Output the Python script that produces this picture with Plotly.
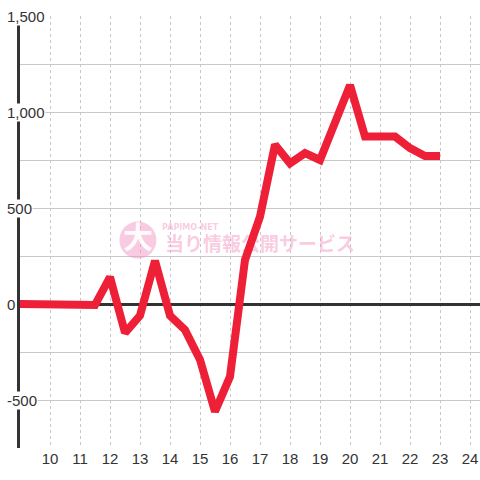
import plotly.graph_objects as go

hours = [9, 9.5, 10, 10.5, 11, 11.5, 12, 12.5, 13, 13.5, 14, 14.5, 15, 15.5,
         16, 16.5, 17, 17.5, 18, 18.5, 19, 19.5, 20, 20.5, 21, 21.5, 22, 22.5, 23]
values = [0, 0, 0, 0, 0, -5, 140, -150, -60, 225, -60, -135, -290, -560,
          -378, 230, 455, 830, 733, 786, 750, 935, 1140, 872, 872, 872, 812, 771, 771]

x_ticks = list(range(10, 25))
y_label_vals = [1500, 1000, 500, 0, -500]
y_label_text = ["1,500", "1,000", "500", "0", "-500"]

pink = "rgba(242,140,190,0.45)"
font_family = "Liberation Sans, Arial, sans-serif"

fig = go.Figure()

# watermark (drawn under the line)
fig.add_trace(go.Scatter(
    x=[12.93], y=[333], mode="markers+text",
    marker=dict(size=37, color=pink, line=dict(width=0)),
    text=["大"], textposition="middle center",
    textfont=dict(family="Noto Sans CJK JP", size=30, color="rgba(255,255,255,0.95)", weight="bold"),
    hoverinfo="skip", showlegend=False))
fig.add_trace(go.Scatter(
    x=[14.67], y=[396], mode="text", text=["PAPIMO-NET"],
    textfont=dict(family="DejaVu Sans", size=8, color=pink, weight="bold"),
    hoverinfo="skip", showlegend=False))
fig.add_trace(go.Scatter(
    x=[17.0], y=[303], mode="text", text=["当り情報公開サービス"],
    textfont=dict(family="Noto Sans CJK JP", size=19, color=pink, weight="bold"),
    hoverinfo="skip", showlegend=False))

fig.add_trace(go.Scatter(
    x=hours, y=values, mode="lines",
    line=dict(color="#EE2038", width=8),
    hoverinfo="skip", showlegend=False))

for v, t in zip(y_label_vals, y_label_text):
    fig.add_annotation(
        x=-0.031, xref="paper", y=v, yref="y", text=t, showarrow=False,
        xanchor="left", yanchor="middle", bgcolor="white", borderpad=0,
        font=dict(family=font_family, size=15, color="#333333"))

fig.update_layout(
    width=480, height=480,
    margin=dict(l=20, r=0, t=16, b=32),
    paper_bgcolor="white", plot_bgcolor="white",
    xaxis=dict(
        range=[9, 24.333], tickvals=x_ticks, ticktext=[str(t) for t in x_ticks],
        showgrid=True, gridcolor="#c8c8c8", gridwidth=1, griddash="3px,3px",
        zeroline=False, showline=False, ticks="",
        tickfont=dict(family=font_family, size=15, color="#333333"),
    ),
    yaxis=dict(
        range=[-750, 1500], tickvals=[-750, -500, -250, 0, 250, 500, 750, 1000, 1250, 1500],
        showticklabels=False, ticks="",
        showgrid=True, gridcolor="#c8c8c8", gridwidth=1,
        zeroline=True, zerolinecolor="#333333", zerolinewidth=3,
        showline=True, linecolor="#333333", linewidth=3,
    ),
)

fig.write_html("out.html", config={"displayModeBar": False},
               post_script="document.body.style.margin='0';")
